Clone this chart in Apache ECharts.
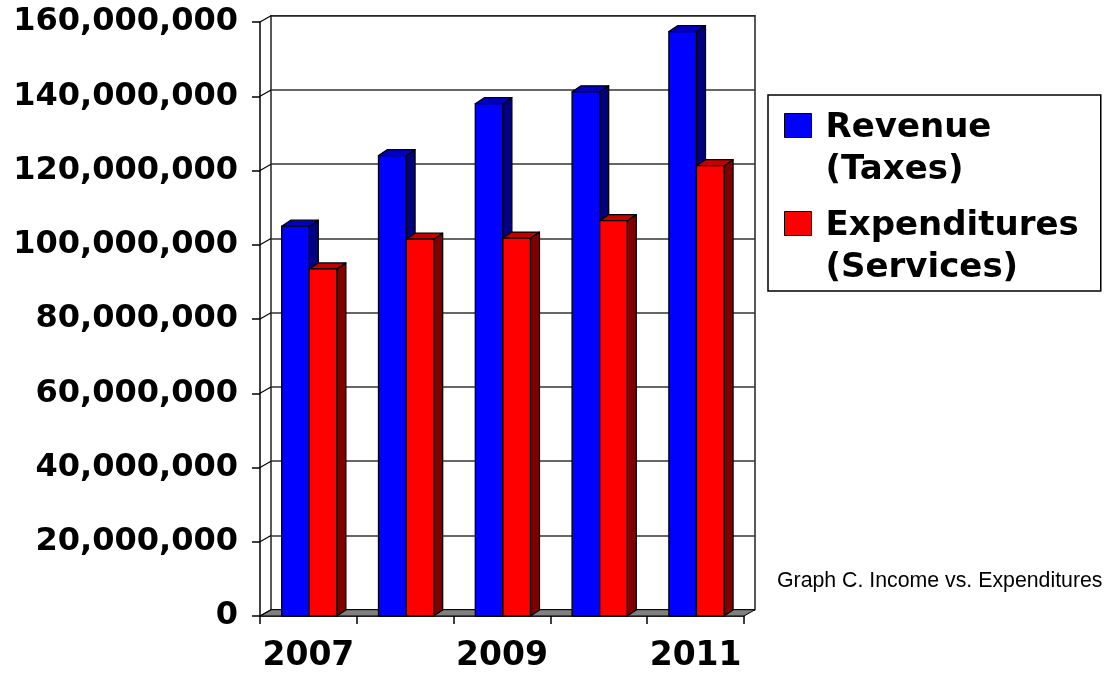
<!DOCTYPE html>
<html><head><meta charset="utf-8">
<script src="https://cdn.jsdelivr.net/npm/echarts@6/dist/echarts.min.js"></script>
<style>html,body{margin:0;padding:0;background:#fff}#c{width:1109px;height:675px}</style>
</head><body><div id="c"></div>
<script>
const categories = ['2007', '2008', '2009', '2010', '2011'];
const revenue = [105000000, 124000000, 138000000, 141200000, 157400000];
const expenditures = [93500000, 101500000, 101800000, 106500000, 121300000];
const seriesNames = ['Revenue\n(Taxes)', 'Expenditures\n(Services)'];
const yTicks = [0, 20000000, 40000000, 60000000, 80000000, 100000000, 120000000, 140000000, 160000000];
const caption = 'Graph C. Income vs. Expenditures';

const Y_MIN = 0, Y_MAX = 160000000, Y_STEP = 20000000;
const WALL_DX = 11, WALL_DY = -6.3;
const BAR_DX = 9, BAR_DY = -6;
const BAR_START = 0.224, BAR_W = 0.285;
const palettes = [
  { front: '#0000FF', top: '#0000C4', side: '#000080' },
  { front: '#FF0000', top: '#C40000', side: '#800000' }
];

function barRenderer(si) {
  return function (params, api) {
    const ci = api.value(0), v = api.value(1);
    const band = api.size([1, 0])[0];
    const c0 = api.coord([ci, 0]);
    const c1 = api.coord([ci, v]);
    const w = band * BAR_W;
    const xL = c0[0] - band / 2 + band * BAR_START + si * w;
    const xR = xL + w;
    const yB = c0[1], yT = c1[1];
    const p = palettes[si];
    const st = { stroke: '#000', lineWidth: 1.3, lineJoin: 'round' };
    return {
      type: 'group', children: [
        { type: 'polygon', shape: { points: [[xR, yB], [xR + BAR_DX, yB + BAR_DY], [xR + BAR_DX, yT + BAR_DY], [xR, yT]] }, style: Object.assign({ fill: p.side }, st) },
        { type: 'polygon', shape: { points: [[xL, yT], [xR, yT], [xR + BAR_DX, yT + BAR_DY], [xL + BAR_DX, yT + BAR_DY]] }, style: Object.assign({ fill: p.top }, st) },
        { type: 'rect', shape: { x: xL, y: yT, width: w, height: yB - yT }, style: Object.assign({ fill: p.front }, st) }
      ]
    };
  };
}

function floorRender(params, api) {
  const cs = params.coordSys;
  const yB = cs.y + cs.height, xL = cs.x, xR = cs.x + cs.width;
  return {
    type: 'polygon',
    shape: { points: [[xL, yB], [xR, yB], [xR + WALL_DX, yB + WALL_DY], [xL + WALL_DX, yB + WALL_DY]] },
    style: { fill: '#808080', stroke: '#000', lineWidth: 1 }
  };
}

function connectorRender(params, api) {
  const cs = params.coordSys;
  const y = api.coord([0, api.value(1)])[1];
  return {
    type: 'line',
    shape: { x1: cs.x, y1: y, x2: cs.x + WALL_DX, y2: y + WALL_DY },
    style: { stroke: '#000', lineWidth: 1.2 }
  };
}

function fmt(v) { return String(v).replace(/\B(?=(\d{3})+(?!\d))/g, ','); }

const chart = echarts.init(document.getElementById('c'), null, { renderer: 'canvas' });
chart.setOption({
  animation: false,
  backgroundColor: '#fff',
  title: {
    text: caption, left: 772, top: 566,
    textStyle: { fontSize: 21.3, fontWeight: 'normal', fontFamily: 'Liberation Sans', color: '#000' }
  },
  legend: {
    data: seriesNames, orient: 'vertical', left: 768, top: 95,
    padding: [12, 22, 1, 16], itemGap: 13, itemWidth: 36, itemHeight: 84,
    icon: 'path://M0,0 M0,6 L27,6 L27,30 L0,30 Z M36,84',
    borderColor: '#000', borderWidth: 1.5, backgroundColor: '#fff', selectedMode: false,
    itemStyle: { borderColor: '#000', borderWidth: 1 },
    textStyle: { fontSize: 34, fontWeight: 'bold', fontFamily: 'DejaVu Sans', color: '#000', lineHeight: 42 }
  },
  grid: [
    { left: 260, right: 365, top: 22, bottom: 59, containLabel: false },
    { left: 260 + WALL_DX, right: 365 - WALL_DX, top: 22 + WALL_DY, bottom: 59 - WALL_DY, show: true, borderColor: '#000', borderWidth: 1.3, backgroundColor: 'transparent' }
  ],
  xAxis: [
    {
      type: 'category', gridIndex: 0, data: categories, boundaryGap: true,
      axisLine: { lineStyle: { color: '#000', width: 1.5 } },
      axisTick: { show: true, interval: 0, length: 8, alignWithLabel: false, lineStyle: { color: '#000', width: 1.5 } },
      axisLabel: { interval: 1, fontSize: 33, fontWeight: 'bold', fontFamily: 'DejaVu Sans', color: '#000', margin: 24 },
      splitLine: { show: false }
    },
    { type: 'category', gridIndex: 1, data: categories, show: false }
  ],
  yAxis: [
    {
      type: 'value', gridIndex: 0, min: Y_MIN, max: Y_MAX, interval: Y_STEP,
      axisLine: { show: true, lineStyle: { color: '#000', width: 1.5 } },
      axisTick: { show: true, length: 8, lineStyle: { color: '#000', width: 1.5 } },
      axisLabel: { formatter: fmt, fontSize: 32, fontWeight: 'bold', fontFamily: 'DejaVu Sans', color: '#000', margin: 22 },
      splitLine: { show: false }
    },
    {
      type: 'value', gridIndex: 1, min: Y_MIN, max: Y_MAX, interval: Y_STEP,
      axisLine: { show: false }, axisTick: { show: false }, axisLabel: { show: false },
      splitLine: { show: true, lineStyle: { color: '#333', width: 1.5 } }
    }
  ],
  series: [
    { type: 'custom', name: 'floor', xAxisIndex: 0, yAxisIndex: 0, renderItem: floorRender, data: [[0, 0]], silent: true, z: 1 },
    { type: 'custom', name: 'walls', xAxisIndex: 0, yAxisIndex: 0, renderItem: connectorRender, data: yTicks.map(v => [0, v]), silent: true, z: 1 },
    { type: 'custom', name: seriesNames[0], xAxisIndex: 0, yAxisIndex: 0, renderItem: barRenderer(0), itemStyle: { color: palettes[0].front }, data: revenue.map((v, i) => [i, v]), encode: { x: 0, y: 1 }, z: 3 },
    { type: 'custom', name: seriesNames[1], xAxisIndex: 0, yAxisIndex: 0, renderItem: barRenderer(1), itemStyle: { color: palettes[1].front }, data: expenditures.map((v, i) => [i, v]), encode: { x: 0, y: 1 }, z: 4 }
  ]
});
</script></body></html>
